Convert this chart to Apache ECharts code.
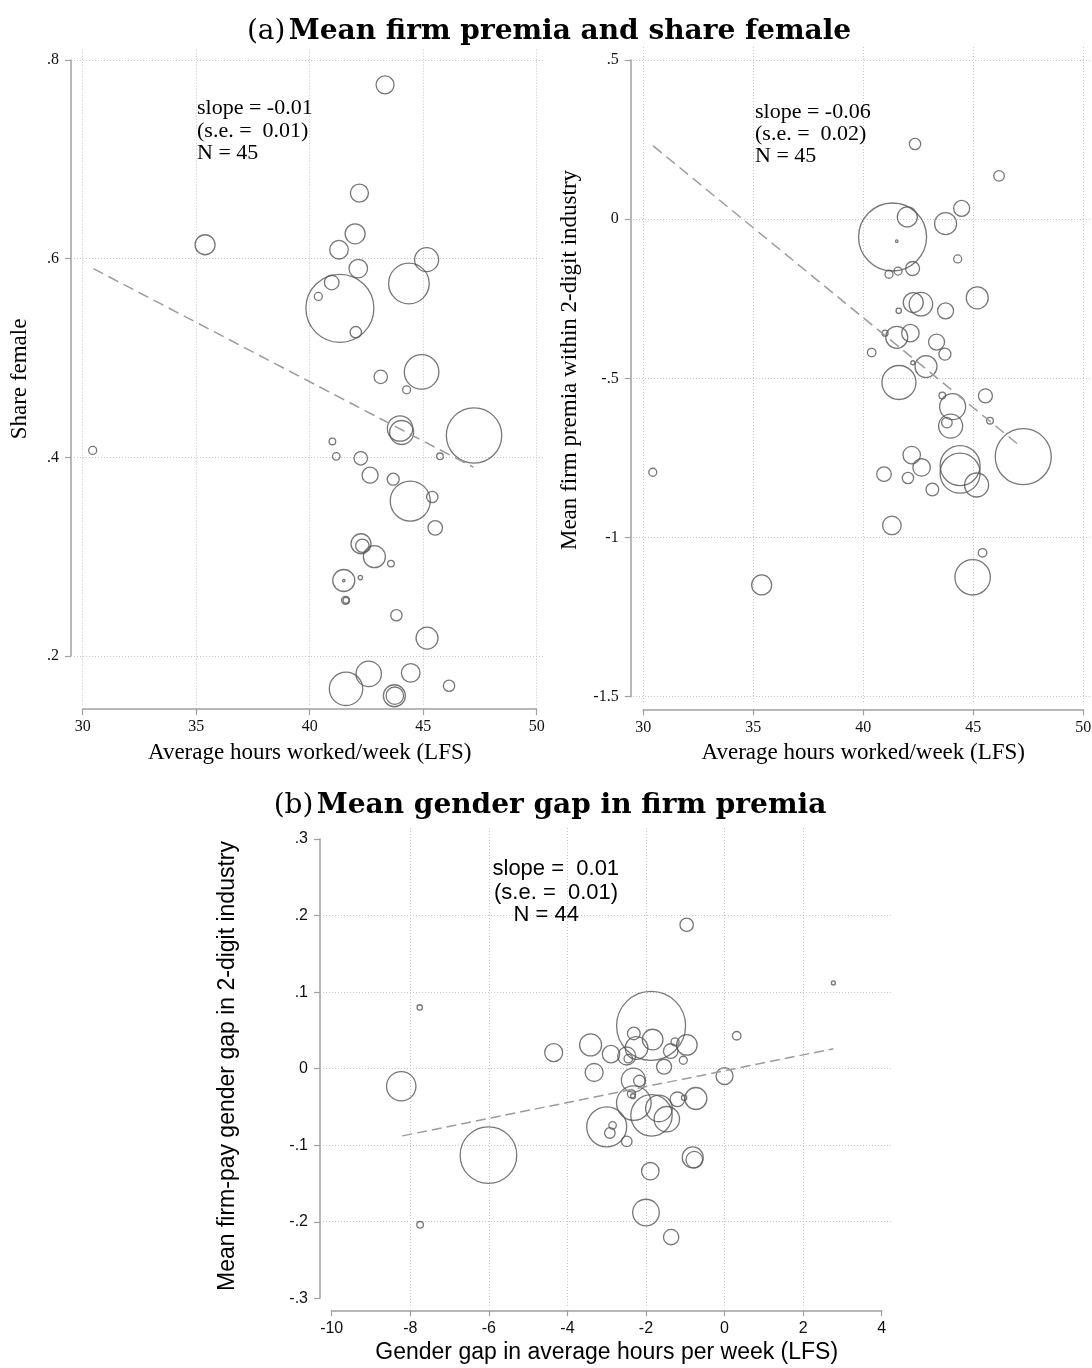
<!DOCTYPE html>
<html>
<head>
<meta charset="utf-8">
<title>Firm premia and hours worked</title>
<script src="https://cdn.jsdelivr.net/npm/echarts@6/dist/echarts.min.js"></script>
<style>
  html, body { margin: 0; padding: 0; background: #ffffff; }
  #chart { width: 1092px; height: 1368px; }
</style>
</head>
<body>
<div id="chart"></div>
<script>
// ---------- Panel (a), left: share female vs. average weekly hours ----------
const hoursA = [43.32, 35.39, 42.19, 42.00, 41.29, 42.14, 41.33, 40.97, 40.38, 42.03,
                44.37, 45.15, 43.13, 44.93, 44.27, 43.98, 44.05, 47.24, 30.44, 41.00,
                41.17, 42.25, 45.74, 42.66, 43.68, 44.43, 45.40, 45.53, 42.26, 42.32,
                42.85, 43.58, 41.50, 41.50, 42.23, 41.58, 41.60, 43.82, 45.17, 42.60,
                44.45, 41.60, 43.73, 43.75, 46.14];
const shareFemale = [0.775, 0.614, 0.666, 0.625, 0.609, 0.590, 0.550, 0.576, 0.562, 0.526,
                     0.575, 0.599, 0.481, 0.486, 0.468, 0.429, 0.425, 0.422, 0.407, 0.416,
                     0.401, 0.399, 0.401, 0.382, 0.378, 0.356, 0.360, 0.329, 0.313, 0.311,
                     0.300, 0.293, 0.276, 0.276, 0.279, 0.256, 0.256, 0.241, 0.218, 0.182,
                     0.183, 0.167, 0.160, 0.160, 0.170];
const empWeightA = [81, 100, 81, 100, 86, 86, 1156, 53, 16, 32,
                    412, 144, 45, 299, 16, 161, 144, 767, 16, 11,
                    14, 45, 11, 64, 36, 400, 32, 53, 100, 45,
                    121, 11, 121, 1.5, 5, 16, 9, 32, 121, 161,
                    86, 279, 121, 76, 32];
const fitAx = [30.47, 47.21];
const fitAy = [0.590, 0.390];
const xTicksA = [30, 35, 40, 45, 50];
const yTicksA = [0.2, 0.4, 0.6, 0.8];

// ---------- Panel (a), right: mean firm premia vs. average weekly hours ----------
const hoursB = [42.35, 46.17, 41.33, 41.52, 42.00, 43.74, 44.47, 44.29, 42.24, 41.58,
                41.17, 42.27, 42.62, 45.18, 41.61, 43.74, 42.14, 41.52, 40.99, 43.33,
                43.71, 40.38, 42.85, 42.25, 41.62, 43.59, 45.55, 44.06, 43.97, 43.80,
                45.76, 47.27, 44.40, 44.40, 45.15, 42.20, 42.65, 40.94, 42.03, 43.14,
                41.30, 45.42, 44.97, 35.38, 30.43];
const premiaB = [0.236, 0.136, -0.056, -0.069, 0.007, -0.014, 0.034, -0.125, -0.155, -0.163,
                 -0.173, -0.262, -0.267, -0.247, -0.288, -0.288, -0.358, -0.371, -0.358, -0.386,
                 -0.424, -0.419, -0.463, -0.451, -0.513, -0.554, -0.555, -0.589, -0.650, -0.639,
                 -0.633, -0.746, -0.774, -0.798, -0.835, -0.741, -0.780, -0.801, -0.813, -0.849,
                 -0.962, -1.048, -1.125, -1.149, -0.795];
const empWeightB = [32, 28, 1156, 1.5, 100, 121, 64, 16, 49, 16,
                    16, 100, 137, 121, 7, 64, 76, 121, 9, 64,
                    36, 18, 121, 4, 289, 11, 49, 169, 144, 28,
                    11, 784, 400, 400, 144, 76, 76, 53, 32, 40,
                    86, 18, 313, 100, 16];
const fitBx = [30.45, 47.12];
const fitBy = [0.230, -0.712];
const xTicksB = [30, 35, 40, 45, 50];
const yTicksB = [-1.5, -1, -0.5, 0, 0.5];

// ---------- Panel (b): gender gap in firm premia vs. gender gap in hours ----------
const gapHours = [-0.965, 2.77, -7.76, -1.87, 0.31, -4.35, -3.41, -2.89, -2.31, -1.83,
                  -2.24, -2.49, -2.45, -1.26, -0.96, -1.37, -1.05, -1.54, -3.32, 0.00,
                  -8.23, -2.32, -2.17, -2.31, -2.37, -2.33, -1.86, -1.67, -1.47, -1.20,
                  -1.03, -0.73, -3.00, -2.85, -2.92, -2.49, -0.81, -0.77, -6.01, -7.75,
                  -1.89, -2.00, -1.36];
const gapPremia = [0.188, 0.112, 0.080, 0.056, 0.043, 0.021, 0.031, 0.019, 0.046, 0.038,
                   0.027, 0.0165, 0.013, 0.035, 0.031, 0.023, 0.011, 0.0025, -0.005, -0.0097,
                   -0.023, -0.015, -0.016, -0.045, -0.033, -0.036, -0.061, -0.052, -0.066, -0.040,
                   -0.038, -0.039, -0.076, -0.074, -0.084, -0.095, -0.116, -0.119, -0.113, -0.204,
                   -0.134, -0.188, -0.220];
const empWeightC = [45, 4, 7, 1190, 18, 81, 121, 76, 40, 106,
                    128, 81, 18, 16, 106, 53, 16, 56, 81, 72,
                    216, 144, 32, 299, 16, 6, 428, 177, 161, 53,
                    7, 121, 400, 14, 28, 28, 110, 69, 801, 11,
                    76, 177, 59];
const fitCx = [-8.20, 2.77];
const fitCy = [-0.0878, 0.026];
const xTicksC = [-10, -8, -6, -4, -2, 0, 2, 4];
const yTicksC = [-0.3, -0.2, -0.1, 0, 0.1, 0.2, 0.3];

// ---------- styling ----------
const SERIF = 'Liberation Serif';
const SANS = 'Liberation Sans';
const TITLE_FONT = 'DejaVu Serif';
const AXIS_GRAY = '#a0a0a0';
const GRID_GRAY = '#c4c4c4';
const MARKER_GRAY = '#555555';
const FIT_GRAY = '#9c9c9c';

// Tick labels drop the leading zero (".2", "-.5")
function tickText(v) {
  const s = String(+Number(v).toFixed(3));
  return s.replace(/^(-?)0\./, '$1.');
}

function span(ticks) {
  return { min: ticks[0], max: ticks[ticks.length - 1], interval: +(ticks[1] - ticks[0]).toFixed(6) };
}

function makeAxis(dim, gridIndex, ticks, offset, font) {
  const s = span(ticks);
  return {
    type: 'value',
    gridIndex: gridIndex,
    min: s.min, max: s.max, interval: s.interval,
    position: dim === 'x' ? 'bottom' : 'left',
    offset: offset,
    scale: false,
    axisLine: { show: true, onZero: false, lineStyle: { color: AXIS_GRAY, width: 1.5 } },
    axisTick: { show: true, inside: false, length: 6, lineStyle: { color: AXIS_GRAY, width: 1.2 } },
    axisLabel: {
      show: true, margin: dim === 'x' ? 10 : 12,
      fontFamily: font, fontSize: 16, color: '#111111',
      showMinLabel: true, showMaxLabel: true, hideOverlap: false,
      formatter: tickText
    },
    splitLine: { show: false },
    splitArea: { show: false }
  };
}

// Dotted reference grid spanning the whole plot region (beyond the tick range)
function gridLinesData(xs, ys, rx, ry) {
  const out = [];
  xs.forEach(v => out.push({ coords: [[v, ry[0]], [v, ry[1]]] }));
  ys.forEach(v => out.push({ coords: [[rx[0], v], [rx[1], v]] }));
  return out;
}

function gridSeries(idx, xs, ys, rx, ry) {
  return {
    type: 'lines', coordinateSystem: 'cartesian2d',
    xAxisIndex: idx, yAxisIndex: idx,
    data: gridLinesData(xs, ys, rx, ry),
    lineStyle: { color: GRID_GRAY, width: 1, type: [1, 2], opacity: 1 },
    effect: { show: false }, silent: true, clip: false, z: 1, animation: false
  };
}

function bubbleSeries(idx, xs, ys, ws) {
  return {
    type: 'scatter', xAxisIndex: idx, yAxisIndex: idx,
    data: xs.map((x, i) => [x, ys[i], ws[i]]),
    symbol: 'circle',
    symbolSize: d => 2 * Math.sqrt(d[2]),
    itemStyle: { color: 'rgba(0,0,0,0)', borderColor: MARKER_GRAY, borderWidth: 1.3 },
    emphasis: { disabled: true },
    clip: false, silent: true, z: 3, animation: false
  };
}

function fitSeries(idx, xs, ys, dash) {
  return {
    type: 'line', xAxisIndex: idx, yAxisIndex: idx,
    data: xs.map((x, i) => [x, ys[i]]),
    symbol: 'none',
    lineStyle: { color: FIT_GRAY, width: 1.5, type: dash },
    emphasis: { disabled: true },
    clip: false, silent: true, z: 4, animation: false
  };
}

function label(x, y, text, font, size, align, opts) {
  return Object.assign({
    type: 'text', x: x, y: y, silent: true, z: 10,
    style: {
      text: text, fontFamily: font, fontSize: size, fill: '#000000',
      align: align || 'left', verticalAlign: 'middle'
    }
  }, opts || {});
}

function panelTitle(x, y, tag, text) {
  return {
    type: 'text', x: x, y: y, silent: true, z: 10,
    style: {
      text: '{n|' + tag + '} {b|' + text + '}',
      align: 'center', verticalAlign: 'middle',
      rich: {
        n: { fontFamily: TITLE_FONT, fontSize: 28, fontWeight: 'normal', fill: '#000' },
        b: { fontFamily: TITLE_FONT, fontSize: 28, fontWeight: 'bold', fill: '#000' }
      }
    }
  };
}

const chart = echarts.init(document.getElementById('chart'), null, { renderer: 'canvas', width: 1092, height: 1368 });

const option = {
  backgroundColor: '#ffffff',
  animation: false,
  grid: [
    { left: 82.7, top: 60, width: 454, height: 596, containLabel: false, outerBoundsMode: 'none' },
    { left: 643.3, top: 60, width: 440, height: 636.7, containLabel: false, outerBoundsMode: 'none' },
    { left: 331.7, top: 839, width: 550, height: 459.3, containLabel: false, outerBoundsMode: 'none' }
  ],
  xAxis: [
    makeAxis('x', 0, xTicksA, 53, SERIF),
    makeAxis('x', 1, xTicksB, 12.6, SERIF),
    makeAxis('x', 2, xTicksC, 12, SANS)
  ],
  yAxis: [
    makeAxis('y', 0, yTicksA, 11.7, SERIF),
    makeAxis('y', 1, yTicksB, 12.6, SERIF),
    makeAxis('y', 2, yTicksC, 11.7, SANS)
  ],
  series: [
    gridSeries(0, xTicksA, yTicksA, [29.62, 50.37], [0.151, 0.812]),
    gridSeries(1, xTicksB, yTicksB, [29.53, 50.5], [-1.517, 0.541]),
    gridSeries(2, xTicksC.slice(1, -1), yTicksC.slice(1, -1), [-10.22, 4.24], [-0.310, 0.316]),
    bubbleSeries(0, hoursA, shareFemale, empWeightA),
    bubbleSeries(1, hoursB, premiaB, empWeightB),
    bubbleSeries(2, gapHours, gapPremia, empWeightC),
    fitSeries(0, fitAx, fitAy, [11, 6]),
    fitSeries(1, fitBx, fitBy, [11, 6]),
    fitSeries(2, fitCx, fitCy, [10, 5])
  ],
  graphic: [
    panelTitle(549, 32, '(a)', 'Mean firm premia and share female'),
    panelTitle(550, 806, '(b)', 'Mean gender gap in firm premia'),

    // regression annotations
    label(197, 108, 'slope = -0.01', SERIF, 22),
    label(197, 131, '(s.e. =  0.01)', SERIF, 22),
    label(197, 153, 'N = 45', SERIF, 22),
    label(755, 112, 'slope = -0.06', SERIF, 22),
    label(755, 134, '(s.e. =  0.02)', SERIF, 22),
    label(755, 156, 'N = 45', SERIF, 22),
    label(492.5, 869, 'slope =  0.01', SANS, 22),
    label(494, 893, '(s.e. =  0.01)', SANS, 22),
    label(513.5, 915, 'N = 44', SANS, 22),

    // axis titles
    label(309.7, 753, 'Average hours worked/week (LFS)', SERIF, 23, 'center'),
    label(863.3, 753, 'Average hours worked/week (LFS)', SERIF, 23, 'center'),
    label(20, 379, 'Share female', SERIF, 23, 'center', { rotation: Math.PI / 2 }),
    label(570, 360, 'Mean firm premia within 2-digit industry', SERIF, 23, 'center', { rotation: Math.PI / 2 }),
    label(606.7, 1353, 'Gender gap in average hours per week (LFS)', SANS, 23, 'center'),
    label(228, 1066, 'Mean firm-pay gender gap in 2-digit industry', SANS, 23, 'center', { rotation: Math.PI / 2 })
  ]
};

chart.setOption(option);
</script>
</body>
</html>
